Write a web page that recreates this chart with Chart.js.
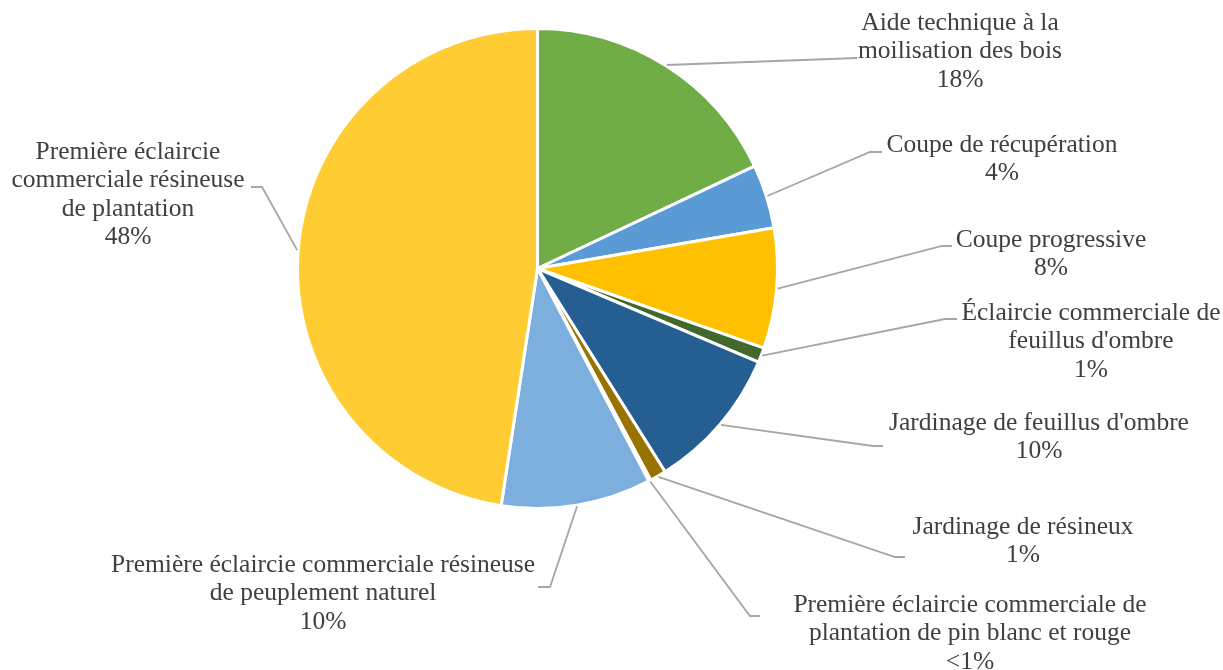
<!DOCTYPE html>
<html>
<head>
<meta charset="utf-8">
<script src="https://cdn.jsdelivr.net/npm/chart.js@4/dist/chart.umd.min.js"></script>
<style>
  html, body { margin: 0; padding: 0; background: #ffffff; }
  #wrap { width: 1223px; height: 670px; }
</style>
</head>
<body>
<div id="wrap"><canvas id="myChart"></canvas></div>
<script>
// categories (line breaks as in the original labels)
var categories = [
    ['Aide technique à la', 'moilisation des bois'],
    ['Coupe de récupération'],
    ['Coupe progressive'],
    ['Éclaircie commerciale de', 'feuillus d\'ombre'],
    ['Jardinage de feuillus d\'ombre'],
    ['Jardinage de résineux'],
    ['Première éclaircie commerciale de', 'plantation de pin blanc et rouge'],
    ['Première éclaircie commerciale résineuse', 'de peuplement naturel'],
    ['Première éclaircie', 'commerciale résineuse', 'de plantation'],
];
// share of each treatment (%)
var shares = [18.0, 4.3, 8.1, 1.0, 9.7, 1.1, 0.15, 10.1, 47.6];

var sliceColors = ['#70AD47', '#5B9BD5', '#FFC000', '#43682B', '#255E91', '#997300', '#8CC168', '#7CAFDD', '#FFCD33'];

// where each data label sits: text centre x, first line y, leader elbow, leader end
var labelSpots = [
    { x: 960, y: 23, elbow: [857, 58], end: [857, 58] },
    { x: 1002, y: 145, elbow: [870, 152], end: [882, 152] },
    { x: 1051, y: 240, elbow: [942, 246], end: [952, 246] },
    { x: 1091, y: 313, elbow: [945, 319], end: [957, 319] },
    { x: 1039, y: 423, elbow: [873, 446], end: [883, 446] },
    { x: 1023, y: 527, elbow: [895, 557], end: [905, 557] },
    { x: 970, y: 605, elbow: [750, 616], end: [760, 616] },
    { x: 323, y: 565, elbow: [550, 587], end: [538, 587] },
    { x: 128, y: 152, elbow: [262, 187], end: [251, 187] },
];

function pctText(v, total) {
    var p = v / total * 100;
    var r = Math.round(p);
    if (r < 1) return '<1%';
    return r + '%';
}

var leaderLabels = {
    id: 'leaderLabels',
    afterDraw: function(chart) {
        var ctx = chart.ctx;
        var meta = chart.getDatasetMeta(0);
        var values = chart.data.datasets[0].data;
        var total = values.reduce(function(a, b) { return a + b; }, 0);
        ctx.save();
        meta.data.forEach(function(arc, i) {
            var p = arc.getProps(['x', 'y', 'startAngle', 'endAngle', 'outerRadius'], true);
            var mid = (p.startAngle + p.endAngle) / 2;
            var sx = p.x + Math.cos(mid) * (p.outerRadius + 1);
            var sy = p.y + Math.sin(mid) * (p.outerRadius + 1);
            var spot = labelSpots[i];
            ctx.strokeStyle = '#A6A6A6';
            ctx.lineWidth = 1.8;
            ctx.beginPath();
            ctx.moveTo(sx, sy);
            ctx.lineTo(spot.elbow[0], spot.elbow[1]);
            ctx.lineTo(spot.end[0], spot.end[1]);
            ctx.stroke();

            var lines = chart.data.labels[i].concat([pctText(values[i], total)]);
            ctx.fillStyle = '#404040';
            ctx.font = '25.5px "Liberation Serif", serif';
            ctx.textAlign = 'center';
            ctx.textBaseline = 'middle';
            lines.forEach(function(t, k) {
                ctx.fillText(t, spot.x, spot.y + k * 28.5);
            });
        });
        ctx.restore();
    }
};

var ctx = document.getElementById('myChart').getContext('2d');
var myChart = new Chart(ctx, {
    type: 'pie',
    data: {
        labels: categories,
        datasets: [
            {
                data: shares,
                backgroundColor: sliceColors,
                borderColor: '#ffffff',
                borderWidth: 3,
            },
        ],
    },
    options: {
        responsive: true,
        maintainAspectRatio: false,
        animation: false,
        layout: {
            padding: { left: 296, right: 444, top: 27, bottom: 160 },
        },
        plugins: {
            legend: { display: false },
            tooltip: { enabled: false },
        },
    },
    plugins: [leaderLabels],
});
</script>
</body>
</html>
